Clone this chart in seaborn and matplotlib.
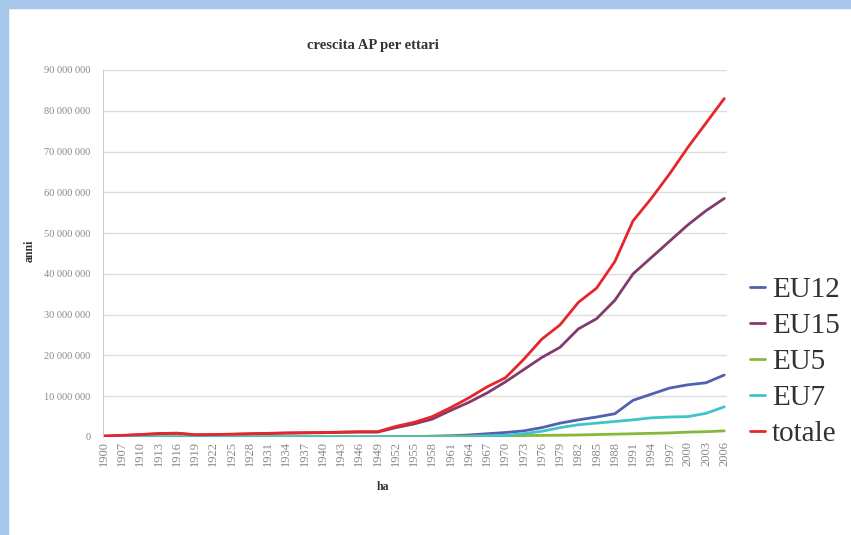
import numpy as np
import pandas as pd
import matplotlib
matplotlib.use("Agg")
import matplotlib.pyplot as plt
import matplotlib.ticker as mticker
from matplotlib.patches import Rectangle
import seaborn as sns

# anni (etichette dell'asse x)
anni = [1900, 1907, 1910, 1913, 1916, 1919, 1922, 1925, 1928, 1931, 1934, 1937,
        1940, 1943, 1946, 1949, 1952, 1955, 1958, 1961, 1964, 1967, 1970, 1973,
        1976, 1979, 1982, 1985, 1988, 1991, 1994, 1997, 2000, 2003, 2006]

# valori in milioni di ettari
eu12 = [0, 0, 0, 0, 0, 0, 0, 0, 0, 0, 0, 0,
        0, 0, 0, 0, 0.05, 0.1, 0.2, 0.3, 0.5, 0.8, 1.1, 1.5,
        2.3, 3.4, 4.2, 4.9, 5.7, 9.0, 10.5, 12.0, 12.8, 13.3, 15.2]
eu15 = [0.2, 0.35, 0.55, 0.8, 0.9, 0.5, 0.55, 0.65, 0.75, 0.85, 0.95, 1.0,
        1.05, 1.15, 1.2, 1.2, 2.3, 3.2, 4.4, 6.5, 8.5, 10.8, 13.5, 16.5,
        19.5, 22.0, 26.5, 29.0, 33.5, 40.0, 44.0, 48.0, 52.0, 55.5, 58.5]
eu5 = [0.05, 0.05, 0.05, 0.05, 0.05, 0.05, 0.05, 0.05, 0.05, 0.05, 0.05, 0.05,
       0.05, 0.05, 0.05, 0.05, 0.1, 0.12, 0.15, 0.2, 0.25, 0.3, 0.3, 0.35,
       0.4, 0.45, 0.5, 0.6, 0.7, 0.8, 0.9, 1.0, 1.2, 1.3, 1.5]
eu7 = [0, 0, 0, 0, 0, 0, 0, 0, 0, 0, 0, 0,
       0, 0, 0, 0, 0, 0, 0, 0, 0.05, 0.2, 0.4, 0.8,
       1.4, 2.3, 3.0, 3.4, 3.8, 4.2, 4.7, 4.9, 5.0, 5.8, 7.4]
totale = [0.25, 0.4, 0.6, 0.85, 0.95, 0.55, 0.6, 0.7, 0.8, 0.9, 1.0, 1.05,
          1.1, 1.2, 1.3, 1.3, 2.6, 3.6, 5.0, 7.2, 9.6, 12.3, 14.5, 19.0,
          24.0, 27.5, 33.0, 36.5, 43.0, 53.0, 58.5, 64.5, 71.0, 77.0, 83.0]

serie = ["EU12", "EU15", "EU5", "EU7", "totale"]
colori = ["#5360b0", "#833a6c", "#86b83a", "#3fc4c8", "#e5262b"]

df = pd.DataFrame({"pos": np.arange(len(anni)),
                   "EU12": eu12, "EU15": eu15, "EU5": eu5, "EU7": eu7, "totale": totale})
df_long = df.melt(id_vars="pos", var_name="serie", value_name="val")
df_long["val"] = df_long["val"] * 1e6

sns.set_style("white")
plt.rcParams["font.family"] = ["Liberation Serif", "DejaVu Serif"]

fig = plt.figure(figsize=(8.51, 5.35), dpi=100)
fig.patch.set_facecolor("white")
# cornice azzurra
fig.add_artist(Rectangle((0, 0), 8 / 851, 1, transform=fig.transFigure, color="#a6c6ea", zorder=0))
fig.add_artist(Rectangle((0, 1 - 8 / 535), 1, 8 / 535, transform=fig.transFigure, color="#a6c6ea", zorder=0))

ax = fig.add_axes([103 / 851, 1 - 437 / 535, 624 / 851, 367 / 535])
sns.lineplot(data=df_long, x="pos", y="val", hue="serie", hue_order=serie,
             palette=colori, linewidth=2, ax=ax, legend=True)

ax.set_ylim(0, 90e6)
ax.set_xlim(-0.05, 34.15)
ax.yaxis.set_major_locator(mticker.MultipleLocator(10e6))
ax.yaxis.set_major_formatter(mticker.FuncFormatter(lambda v, p: f"{int(v):,}".replace(",", " ")))
ax.set_xticks(np.arange(len(anni)))
ax.set_xticklabels([str(a) for a in anni], rotation=90)
ax.tick_params(axis="y", labelsize=7.5, colors="#888888", length=0, pad=9)
ax.tick_params(axis="x", labelsize=9, colors="#888888", length=0, pad=3)
ax.grid(axis="y", color="#dddddd", linewidth=1)
for s in ["top", "right", "bottom"]:
    ax.spines[s].set_visible(False)
ax.spines["left"].set_color("#cccccc")
ax.set_xlabel("")
ax.set_ylabel("")

# titolo ed etichette assi
fig.text(373 / 851, 1 - 45 / 535, "crescita AP per ettari", ha="center", va="center",
         fontsize=10.5, fontweight="bold", color="#333333")
fig.text(30 / 851, 1 - 251 / 535, "anni", ha="center", va="center", rotation=90,
         fontsize=8.5, fontweight="bold", color="#333333")
fig.text(383 / 851, 1 - 487 / 535, "ha", ha="center", va="center",
         fontsize=8.5, fontweight="bold", color="#333333")

handles, labels = ax.get_legend_handles_labels()
leg = ax.legend(handles, labels, loc="center left", bbox_to_anchor=(750 / 851, 1 - 362 / 535),
                bbox_transform=fig.transFigure, frameon=False, fontsize=21,
                handlelength=0.5, handletextpad=0.25, labelspacing=0.33,
                borderpad=0, borderaxespad=0)
for t in leg.get_texts():
    t.set_color("#333333")

fig.savefig("out.png", dpi=100, facecolor="white")
